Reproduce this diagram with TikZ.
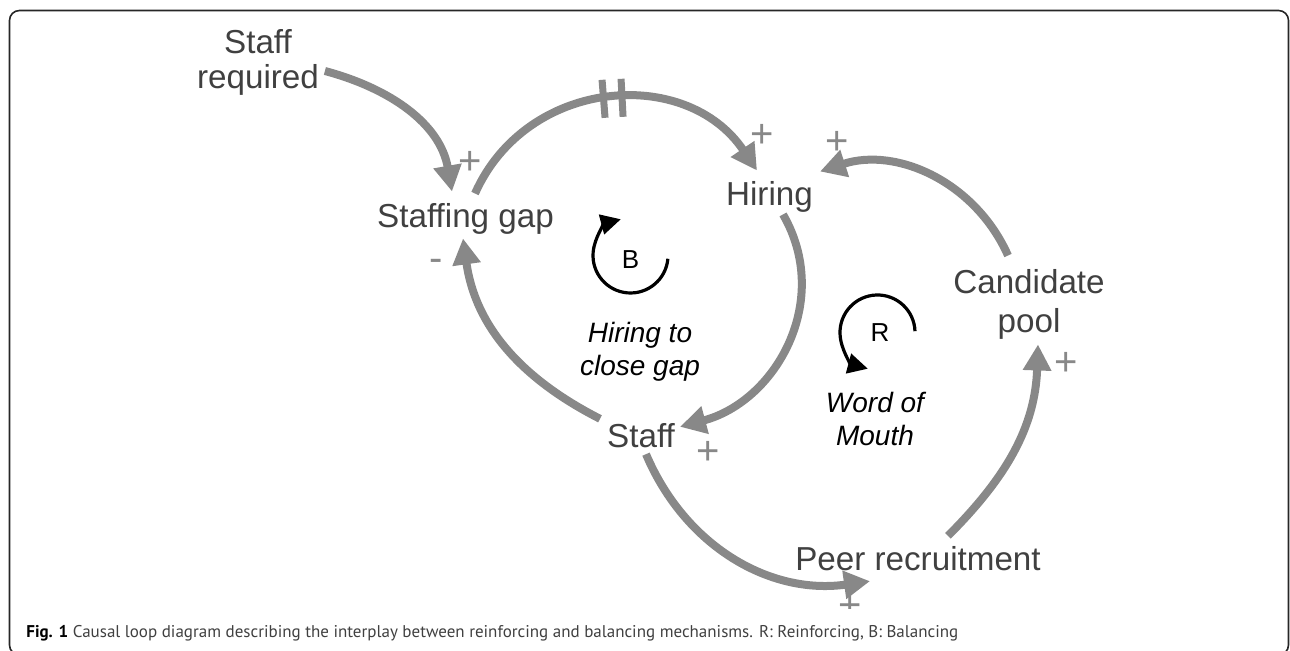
\documentclass[tikz,border=0pt]{standalone}
\usepackage{fontspec}
\setmainfont{Liberation Sans}
\newfontfamily\captionfont{PT Sans}
\usepackage{tikz}
\usetikzlibrary{calc}
\usetikzlibrary{arrows.meta}
\definecolor{LinkGray}{HTML}{888888}
\definecolor{TextGray}{HTML}{404040}
\newcommand{\linkwidth}{4pt}
\newcommand{\loopwidth}{1.6pt}
\newcommand{\loopradius}{37.5}
\newcommand{\varfont}{\fontsize{16.6}{17.5}\selectfont}
\newcommand{\namefont}{\fontsize{14}{16.5}\selectfont\itshape}
\newcommand{\signfont}{\fontsize{20}{20}\selectfont}
\newcommand{\letterfont}{\fontsize{13}{13}\selectfont}

\tikzset{
  var/.style={text=TextGray, font=\varfont, align=center, inner sep=0pt, outer sep=0pt},
  sign/.style={text=LinkGray, font=\signfont, inner sep=0pt},
  link/.style={draw=LinkGray, line width=\linkwidth,
    -{Triangle[length=13pt,width=13.5pt]}},
  delaybar/.style={draw=LinkGray, line width=3.5pt},
  loopname/.style={font=\namefont, align=center, inner sep=0pt},
  loopletter/.style={font=\letterfont, inner sep=0pt},
  looparrow/.style={draw=black, line width=\loopwidth,
    -{Triangle[length=10pt,width=10pt]}},
}

\begin{document}
\begin{tikzpicture}[x=0.5pt,y=0.5pt]
    \useasboundingbox (0,0) rectangle (1290,651);
    % outer frame
    \begin{scope}
      \clip (0,0) rectangle (1290,651);
      \draw[line width=0.8pt, draw=black!85, rounded corners=5pt]
        (9.5,640.5) rectangle (1288.5,-4);
    \end{scope}
    % variables
    \node[var] (req) at (258, 588.5) {Staff\\required};
    \node[var] (gap) at (465.5, 432) {Staffing gap};
    \node[var] (hire) at (769.5, 454) {Hiring};
    \node[var] (cand) at (1029, 346.5) {Candidate\\[2pt]pool};
    \node[var] (staff) at (641, 215) {Staff};
    \node[var] (peer) at (918, 92) {Peer recruitment};
    % polarity signs
    \begin{scope}
      \node[sign] (plusgap) at (470, 488) {+};
      \node[sign] (minusgap) at (436, 386) {-};
      \node[sign] (plushire) at (762, 515) {+};
      \node[sign] (pluscand) at (837, 508) {+};
      \node[sign] (plusstaff) at (708, 198) {+};
      \node[sign] (pluspool) at (1066, 287) {+};
    \end{scope}
    \begin{scope}
      % cut off at the bottom
      \clip (0,42) rectangle (1290,651);
      \node[sign] (pluspeer) at (850, 44) {+};
    \end{scope}
    % causal links
    \begin{scope}
      \draw[link] ($(req.east)+(6,-8.5)$)
        to[out=-15, in=100] ($(gap.north)+(-13.5,12)$);
      \draw[link] ($(gap.north)+(9.5,10)$)
        to[out=66, in=124, looseness=1.15]
        coordinate[pos=0.51] (delay)
        ($(hire.north)+(-12.5,11)$);
      \draw[link] ($(hire.south)+(13.5,-2)$)
        to[out=-60, in=15, looseness=1.08] ($(staff.north)+(39,-3)$);
      \draw[link] ($(staff.north)+(-41,5)$)
        to[out=153, in=-82] ($(gap.south)+(-2.5,-4)$);
      \draw[link] ($(staff.south)+(5,-6)$)
        to[out=-67, in=188] ($(peer.south)+(-48,-10)$);
      \draw[link] ($(peer.north)+(30,11)$)
        to[out=45, in=-92] ($(cand.south)+(9,-5)$);
      \draw[link] ($(cand.north)+(-21,14)$)
        to[out=114, in=18] ($(hire.north)+(50.5,10)$);
      % delay mark
      \draw[delaybar] ($(delay)+(-7,-19)$) -- ($(delay)+(-10,19)$);
      \draw[delaybar] ($(delay)+(11,-18)$) -- ($(delay)+(9,20)$);
    \end{scope}
    % loop markers
    \begin{scope}
      \node[loopletter] (B) at (630.5, 391) {B};
      \draw[looparrow] ($(B.center)+(0,4.5)+(-5:\loopradius)$)
        arc[start angle=-5, end angle=-255, radius=\loopradius];
      \node[loopname] (hcg) at (640, 299) {Hiring to\\close gap};
      \node[loopletter] (R) at (880, 318) {R};
      \draw[looparrow] ($(R.center)+(-2.5,0.5)+(2:\loopradius)$)
        arc[start angle=2, end angle=255, radius=\loopradius];
      \node[loopname] (wom) at (875, 231.5) {Word of\\Mouth};
    \end{scope}
    % caption
    \node[anchor=base west, inner sep=0pt, text=TextGray,
      font=\captionfont\fontsize{8.5}{10}\selectfont] (caption) at (26, 13)
      {\textcolor{black}{\textbf{Fig. 1}} Causal loop diagram describing the interplay between reinforcing and balancing mechanisms. R: Reinforcing, B: Balancing};
  \end{tikzpicture}
\end{document}
